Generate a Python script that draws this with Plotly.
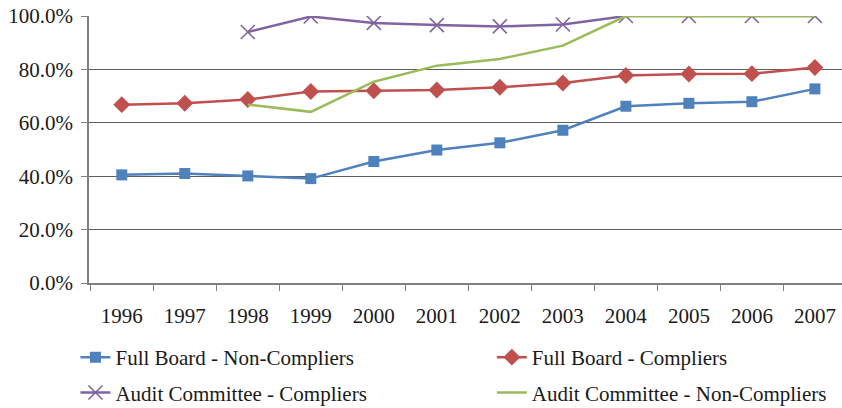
import plotly.graph_objects as go

years = ["1996", "1997", "1998", "1999", "2000", "2001", "2002", "2003", "2004", "2005", "2006", "2007"]
full_board_non = [0.405, 0.41, 0.401, 0.391, 0.455, 0.498, 0.525, 0.572, 0.662, 0.673, 0.679, 0.727]
full_board_comp = [0.668, 0.673, 0.687, 0.717, 0.72, 0.723, 0.733, 0.749, 0.777, 0.783, 0.784, 0.807]
audit_comp = [None, None, 0.94, 0.998, 0.974, 0.966, 0.961, 0.968, 1.0, 1.0, 1.0, 1.0]
audit_non = [None, None, 0.668, 0.641, 0.754, 0.814, 0.839, 0.889, 1.0, 1.0, 1.0, 1.0]

FONT = "Liberation Serif"
FS = 21
TXT = "#1a1a1a"

fig = go.Figure()
fig.add_trace(go.Scatter(x=years, y=full_board_non, name="Full Board - Non-Compliers",
                         mode="lines+markers", line=dict(color="#4F81BD", width=2.5),
                         marker=dict(symbol="square", size=11, color="#4F81BD"),
                         legend="legend", legendgroup="a"))
fig.add_trace(go.Scatter(x=years, y=audit_comp, name="Audit Committee - Compliers",
                         mode="lines+markers", line=dict(color="#8064A2", width=2.5),
                         marker=dict(symbol="x-thin-open", size=14, line=dict(color="#8064A2", width=1.6)),
                         legend="legend", legendgroup="b"))
fig.add_trace(go.Scatter(x=years, y=full_board_comp, name="Full Board - Compliers",
                         mode="lines+markers", line=dict(color="#C0504D", width=2.5),
                         marker=dict(symbol="diamond", size=13, color="#C0504D"),
                         legend="legend2", legendgroup="c"))
fig.add_trace(go.Scatter(x=years, y=audit_non, name="Audit Committee - Non-Compliers",
                         mode="lines", line=dict(color="#9BBB59", width=2.5),
                         legend="legend2", legendgroup="d"))

leg_common = dict(yref="container", y=0.174, xanchor="left", yanchor="top", orientation="v",
                  tracegroupgap=5, font=dict(family=FONT, size=FS, color=TXT),
                  bgcolor="rgba(0,0,0,0)")
fig.update_layout(
    width=842, height=408,
    margin=dict(l=89, r=0, t=16, b=125, autoexpand=False),
    paper_bgcolor="white", plot_bgcolor="white",
    font=dict(family=FONT, size=FS, color=TXT),
    legend=dict(x=-0.018, **leg_common),
    legend2=dict(x=0.535, **leg_common),
)
fig.update_xaxes(type="category", range=[-0.52, 11.43], tickson="boundaries",
                 ticks="outside", ticklen=6, tickcolor="#808080", showline=True,
                 linecolor="#808080", linewidth=1.5, showgrid=False,
                 ticklabelstandoff=13, tickfont=dict(family=FONT, size=FS, color=TXT))
fig.update_yaxes(range=[0, 1.0], dtick=0.2, tickformat=".1%", ticks="outside", ticklen=6,
                 tickcolor="#808080", showline=True, linecolor="#808080", linewidth=1.5,
                 showgrid=True, gridcolor="#5e5e5e", gridwidth=1.2, zeroline=False,
                 ticklabelstandoff=4, tickfont=dict(family=FONT, size=FS, color=TXT))

fig.write_html("out.html")
